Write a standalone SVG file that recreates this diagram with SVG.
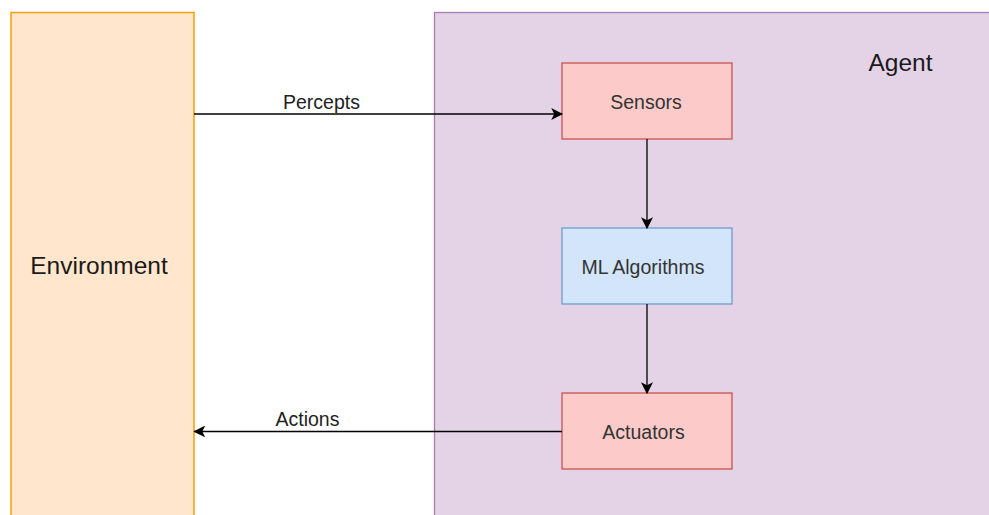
<svg xmlns="http://www.w3.org/2000/svg" width="989" height="515" viewBox="0 0 989 515">
<defs>
<marker id="arr" viewBox="0 0 10 10" refX="9" refY="5" markerWidth="12" markerHeight="12" markerUnits="userSpaceOnUse" orient="auto">
<path d="M0,0 L10,5 L0,10 L2.5,5 Z" fill="#000"/>
</marker>
<style>
text{font-family:"Liberation Sans",Arial,sans-serif;text-anchor:middle;dominant-baseline:central;fill:#333}
.red{fill:#fccbc9;stroke:#c9524e;stroke-width:1.3}
.conn{stroke:#000;stroke-width:1.3;fill:none;marker-end:url(#arr)}
.n{font-size:19.5px}
.l{font-size:19.5px;fill:#222}
.big{font-size:24.5px;fill:#1a1a1a}
</style>
</defs>
<rect width="989" height="515" fill="#fff"/>
<g id="environment">
<rect x="11" y="12.5" width="183" height="510" fill="#ffe6cc" stroke="#f0a30a" stroke-width="1.5"/>
<text class="big" x="99" y="265">Environment</text>
</g>
<g id="agent">
<rect x="434.5" y="12.5" width="560" height="510" fill="#e4d2e7" stroke="#a87bb2" stroke-width="1.3"/>
<text class="big" x="900.5" y="62">Agent</text>
</g>
<g id="sensors">
<rect class="red" x="562" y="63" width="170" height="76"/>
<text class="n" x="646" y="102">Sensors</text>
</g>
<g id="ml">
<rect x="562" y="228" width="170" height="76" fill="#d3e5fa" stroke="#6c9cd0" stroke-width="1.3"/>
<text class="n" x="643" y="267">ML Algorithms</text>
</g>
<g id="actuators">
<rect class="red" x="562" y="393" width="170" height="76"/>
<text class="n" x="643.5" y="432">Actuators</text>
</g>
<g id="connectors">
<line class="conn" x1="194" y1="114" x2="562" y2="114"/>
<text class="l" x="321.5" y="102">Percepts</text>
<line class="conn" x1="647" y1="139" x2="647" y2="228"/>
<line class="conn" x1="647" y1="304" x2="647" y2="393"/>
<line class="conn" x1="562" y1="431.5" x2="194.5" y2="431.5"/>
<text class="l" x="307.5" y="419">Actions</text>
</g>
</svg>
